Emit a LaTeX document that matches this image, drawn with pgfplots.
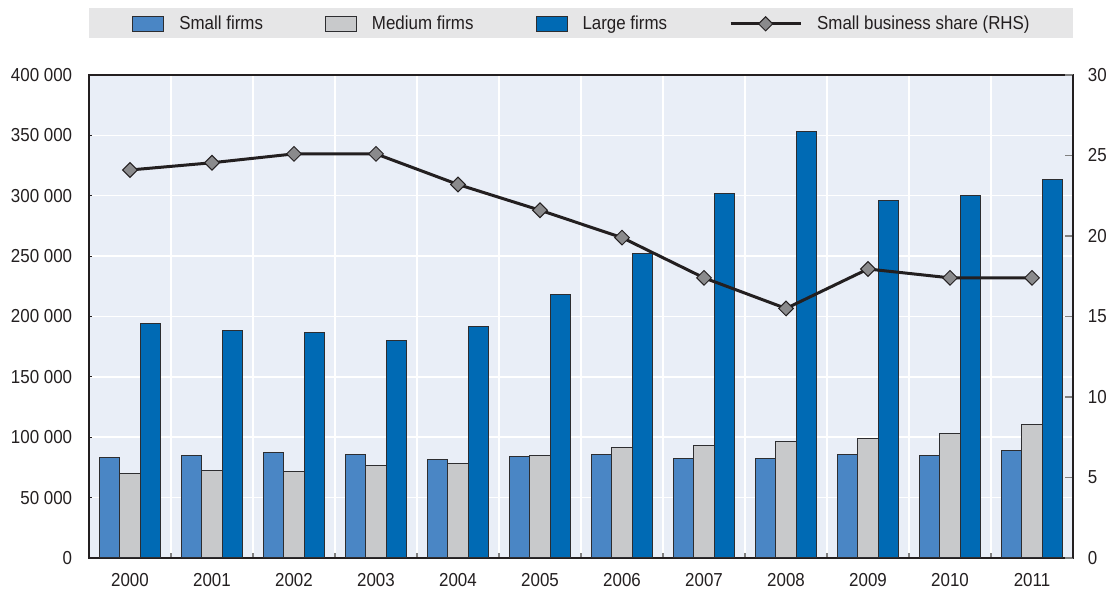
\documentclass[border=0pt]{standalone}
\usepackage{fontspec}
\setmainfont{Liberation Sans}[FakeStretch=0.9]
\usepackage{pgfplots}
\pgfplotsset{compat=1.18}
\definecolor{smallcol}{RGB}{74,134,197}
\definecolor{medcol}{RGB}{200,201,203}
\definecolor{largecol}{RGB}{0,106,180}
\definecolor{bgcol}{RGB}{233,238,247}
\definecolor{legbg}{RGB}{230,230,231}
\definecolor{linecol}{RGB}{35,31,32}
\definecolor{markcol}{RGB}{138,138,140}
\definecolor{edgecol}{RGB}{45,45,48}
\pgfplotsset{
  barleg/.style={legend image code/.code={\draw[##1] (0pt,-3.75pt) rectangle (15.5pt,3.75pt);}},
  lineleg/.style={legend image code/.code={\draw[mark repeat=2, mark phase=2, ##1] plot coordinates {(0pt,0pt) (17.5pt,0pt) (35pt,0pt)};}},
}
\begin{document}
\begin{tikzpicture}[font=\fontsize{9.4}{11}\selectfont]
\useasboundingbox (0,0) rectangle (556pt,296.5pt);
\begin{axis}[
  at={(44.5pt,17.5pt)}, anchor=south west,
  width=492pt, height=241.5pt, scale only axis,
  xmin=-0.5, xmax=11.5, ymin=0, ymax=400000,
  clip=false,
  axis background/.style={fill=bgcol},
  xtick={0,...,11},
  xticklabels={2000,2001,2002,2003,2004,2005,2006,2007,2008,2009,2010,2011},
  minor xtick={0.5,1.5,2.5,3.5,4.5,5.5,6.5,7.5,8.5,9.5,10.5},
  xminorgrids, ymajorgrids,
  major grid style={white, line width=0.75pt},
  minor grid style={white, line width=0.75pt},
  ytick={0,50000,100000,150000,200000,250000,300000,350000,400000},
  yticklabels={0,50 000,100 000,150 000,200 000,250 000,300 000,350 000,400 000},
  scaled y ticks=false,
  tick align=inside,
  xtick pos=bottom, ytick pos=left,
  major tick length=1.5pt, minor tick length=2.5pt,
  every major x tick/.append style={draw=none},
  every minor x tick/.append style={draw=gray, line width=0.6pt},
  ytick style={linecol, line width=0.5pt},
  axis line style={linecol, line width=0.7pt},
  tick label style={text=linecol},
  yticklabel style={xshift=-4.9pt},
  xticklabel style={yshift=-4.4pt},
  legend columns=4,
  legend style={at={(0.5,1.106)}, anchor=center, draw=none, fill=none,
    text=linecol,
    nodes={inner sep=0pt},
    /tikz/every odd column/.append style={column sep=7.5pt},
    /tikz/every even column/.append style={column sep=31pt}},
]
\fill[legbg] (rel axis cs:0,1.0766) rectangle (rel axis cs:1,1.1387);
\addplot[ybar, bar width=0.25, bar shift=-0.25, fill=smallcol, draw=edgecol, line width=0.5pt, barleg]
  coordinates {(0,83400) (1,85000) (2,87200) (3,85900) (4,81400) (5,83900)
               (6,85600) (7,82800) (8,82800) (9,86100) (10,85000) (11,89200)};
\addlegendentry{Small firms}
\addplot[ybar, bar width=0.25, bar shift=0, fill=medcol, draw=edgecol, line width=0.5pt, barleg]
  coordinates {(0,69800) (1,72100) (2,71500) (3,76200) (4,78100) (5,85000)
               (6,91700) (7,93300) (8,96100) (9,99100) (10,103000) (11,110700)};
\addlegendentry{Medium firms}
\addplot[ybar, bar width=0.25, bar shift=0.25, fill=largecol, draw=edgecol, line width=0.5pt, barleg]
  coordinates {(0,193800) (1,188800) (2,186900) (3,180000) (4,191900) (5,218600)
               (6,251800) (7,302000) (8,353100) (9,295900) (10,299800) (11,313100)};
\addlegendentry{Large firms}
\addlegendimage{linecol, line width=1.5pt, mark=square*, mark size=2.5pt,
  mark options={rotate=45, fill=markcol, draw=linecol, line width=0.5pt, solid}, lineleg}
\addlegendentry{Small business share (RHS)}
\end{axis}
\begin{axis}[
  at={(44.5pt,17.5pt)}, anchor=south west,
  width=492pt, height=241.5pt, scale only axis,
  xmin=-0.5, xmax=11.5, ymin=0, ymax=30,
  axis y line*=right, axis x line=none,
  ytick={0,5,10,15,20,25,30},
  yticklabels={0,5,10,15,20,25,30},
  tick align=inside,
  major tick length=4pt,
  ytick style={draw=gray, line width=0.6pt},
  axis line style={linecol, line width=0.7pt},
  tick label style={text=linecol},
  yticklabel style={xshift=3.9pt},
]
\addplot[linecol, line width=1.5pt, mark=square*, mark size=2.6pt,
  mark options={rotate=45, fill=markcol, draw=linecol, line width=0.5pt, solid}]
  coordinates {(0,24.1) (1,24.55) (2,25.1) (3,25.1) (4,23.2) (5,21.6)
               (6,19.9) (7,17.4) (8,15.5) (9,17.95) (10,17.4) (11,17.4)};
\end{axis}
\end{tikzpicture}
\end{document}
